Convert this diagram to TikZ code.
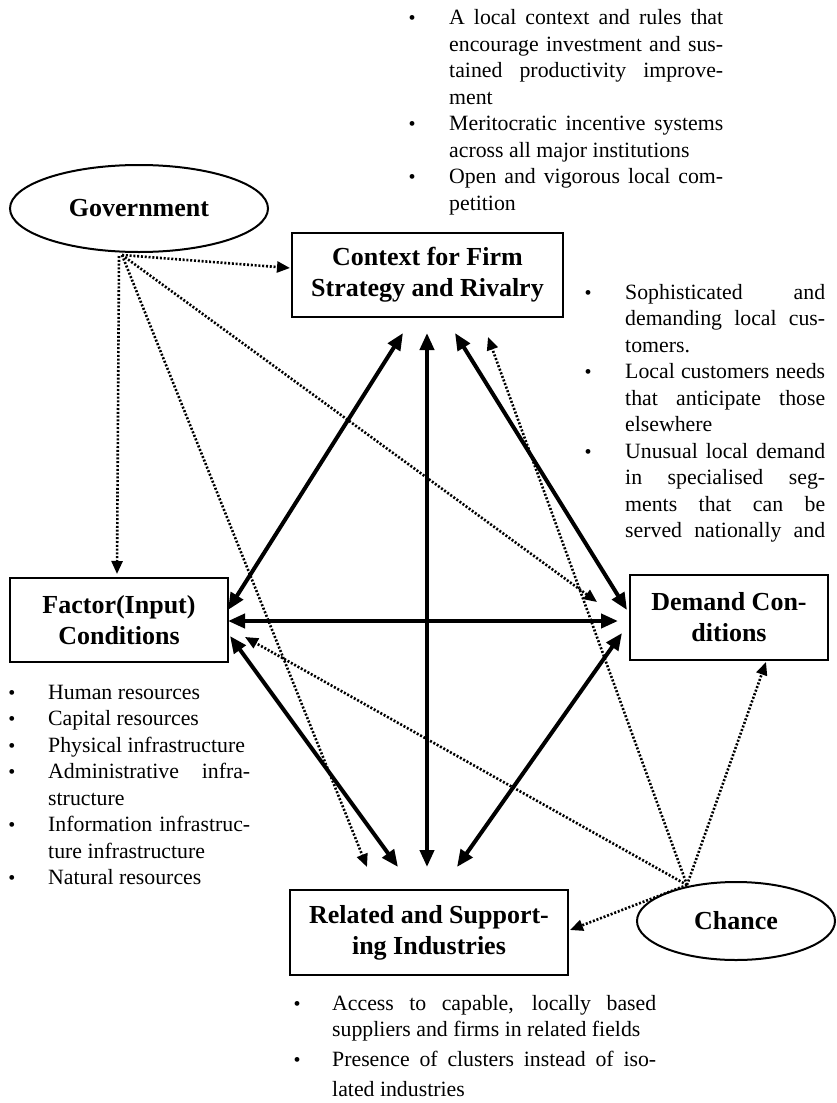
\documentclass[tikz,border=0pt]{standalone}
\usepackage{fontspec}
\setmainfont{Liberation Serif}
\usetikzlibrary{arrows.meta,shapes.geometric}
\newcommand\myjust[2]{\makebox[#1][s]{#2}}
\begin{document}
\begin{tikzpicture}[x=1pt,y=-1pt,
  boxnode/.style={draw, line width=2pt, inner sep=0pt, align=center, font=\fontsize{26}{31}\selectfont\bfseries},
  ovalnode/.style={ellipse, draw, line width=2pt, inner sep=0pt, font=\fontsize{26}{31}\selectfont\bfseries},
  thickarr/.style={line width=4pt, {Triangle[length=17pt,width=14pt]}-{Triangle[length=17pt,width=14pt]}},
  dotarr/.style={line width=2.6pt, dash pattern=on 2pt off 1.8pt, -{Triangle[length=13pt,width=11pt]}},
  txt/.style={inner sep=0pt, anchor=base west, font=\fontsize{21.8}{26.5}\selectfont},
  bul/.style={inner sep=0pt, anchor=base, font=\fontsize{20}{22}\selectfont}]
\useasboundingbox[fill=white] (0,0) rectangle (837,1103);

% main nodes
\node[boxnode, minimum width=271pt, minimum height=84pt] (ctx) at (427.5,275) {Context for Firm\\Strategy and Rivalry};
\node[boxnode, minimum width=218pt, minimum height=84pt] (fac) at (119,620) {Factor(Input)\\Conditions};
\node[boxnode, minimum width=198pt, minimum height=85pt] (dem) at (729,617.5) {Demand Con-\\ditions};
\node[boxnode, minimum width=278pt, minimum height=85pt] (rel) at (429,932.5) {Related and Support-\\ing Industries};
\node[ovalnode, minimum width=258pt, minimum height=87pt] (gov) at (139,208.5) {Government};
\node[ovalnode, minimum width=198pt, minimum height=78pt] (cha) at (736,921) {Chance};

% arrow end points
\coordinate (gp) at (122,255);
\coordinate (gpv) at (119,256);
\coordinate (cp) at (687,885);
\coordinate (cfA) at (403,333);  \coordinate (cfB) at (228,610);
\coordinate (crA) at (427,333);  \coordinate (crB) at (427,867);
\coordinate (cdA) at (455,333);  \coordinate (cdB) at (627,610);
\coordinate (fdA) at (228,621);  \coordinate (fdB) at (618,621);
\coordinate (frA) at (230,636);  \coordinate (frB) at (398,867);
\coordinate (drA) at (622,633);  \coordinate (drB) at (457,867);
\coordinate (gC) at (290,268);
\coordinate (gF) at (117,574);
\coordinate (gR) at (367,867);
\coordinate (gD) at (597,602);
\coordinate (chC) at (488,337);
\coordinate (chF) at (245,637);
\coordinate (chD) at (766,662);
\coordinate (chR) at (570,930);

% thick double arrows
\draw[thickarr] (cfA) -- (cfB);
\draw[thickarr] (crA) -- (crB);
\draw[thickarr] (cdA) -- (cdB);
\draw[thickarr] (fdA) -- (fdB);
\draw[thickarr] (frA) -- (frB);
\draw[thickarr] (drA) -- (drB);

% dotted arrows
\draw[dotarr] (gp) -- (gC);
\draw[dotarr] (gpv) -- (gF);
\draw[dotarr] (gp) -- (gR);
\draw[dotarr] (gp) -- (gD);
\draw[dotarr] (cp) -- (chC);
\draw[dotarr] (cp) -- (chF);
\draw[dotarr] (cp) -- (chD);
\draw[dotarr] (cp) -- (chR);

% top bullets
\node[bul] (tb1) at (412,24.5) {•};
\node[bul] (tb2) at (412,130.5) {•};
\node[bul] (tb3) at (412,183.5) {•};
\node[txt] (t0) at (449,24.5) {\myjust{274pt}{A local context and rules that}};
\node[txt] (t1) at (449,51) {\myjust{274pt}{encourage investment and sus-}};
\node[txt] (t2) at (449,77.5) {\myjust{274pt}{tained productivity improve-}};
\node[txt] (t3) at (449,104) {ment};
\node[txt] (t4) at (449,130.5) {\myjust{274pt}{Meritocratic incentive systems}};
\node[txt] (t5) at (449,157) {across all major institutions};
\node[txt] (t6) at (449,183.5) {\myjust{274pt}{Open and vigorous local com-}};
\node[txt] (t7) at (449,210) {petition};

% right bullets
\node[bul] (rb1) at (588,299) {•};
\node[bul] (rb2) at (588,378.5) {•};
\node[bul] (rb3) at (588,458) {•};
\node[txt] (r0) at (625,299) {\myjust{200pt}{Sophisticated and}};
\node[txt] (r1) at (625,325.5) {\myjust{200pt}{demanding local cus-}};
\node[txt] (r2) at (625,352) {tomers.};
\node[txt] (r3) at (625,378.5) {\myjust{200pt}{Local customers needs}};
\node[txt] (r4) at (625,405) {\myjust{200pt}{that anticipate those}};
\node[txt] (r5) at (625,431.5) {elsewhere};
\node[txt] (r6) at (625,458) {\myjust{200pt}{Unusual local demand}};
\node[txt] (r7) at (625,484.5) {\myjust{200pt}{in specialised seg-}};
\node[txt] (r8) at (625,511) {\myjust{200pt}{ments that can be}};
\node[txt] (r9) at (625,537.5) {\myjust{200pt}{served nationally and}};

% factor bullets
\node[bul] (fb1) at (12,699) {•};
\node[bul] (fb2) at (12,725.5) {•};
\node[bul] (fb3) at (12,752) {•};
\node[bul] (fb4) at (12,778.5) {•};
\node[bul] (fb5) at (12,831.5) {•};
\node[bul] (fb6) at (12,884.5) {•};
\node[txt] (f0) at (48,699) {Human resources};
\node[txt] (f1) at (48,725.5) {Capital resources};
\node[txt] (f2) at (48,752) {Physical infrastructure};
\node[txt] (f3) at (48,778.5) {\myjust{202pt}{Administrative infra-}};
\node[txt] (f4) at (48,805) {structure};
\node[txt] (f5) at (48,831.5) {\myjust{202pt}{Information infrastruc-}};
\node[txt] (f6) at (48,858) {ture infrastructure};
\node[txt] (f7) at (48,884.5) {Natural resources};

% bottom bullets
\node[bul] (bb1) at (297,1010) {•};
\node[bul] (bb2) at (297,1066) {•};
\node[txt] (b0) at (332,1010) {\myjust{324pt}{Access to capable, locally based}};
\node[txt] (b1) at (332,1036) {suppliers and firms in related fields};
\node[txt] (b2) at (332,1066) {\myjust{324pt}{Presence of clusters instead of iso-}};
\node[txt] (b3) at (332,1096) {lated industries};
\end{tikzpicture}
\end{document}
